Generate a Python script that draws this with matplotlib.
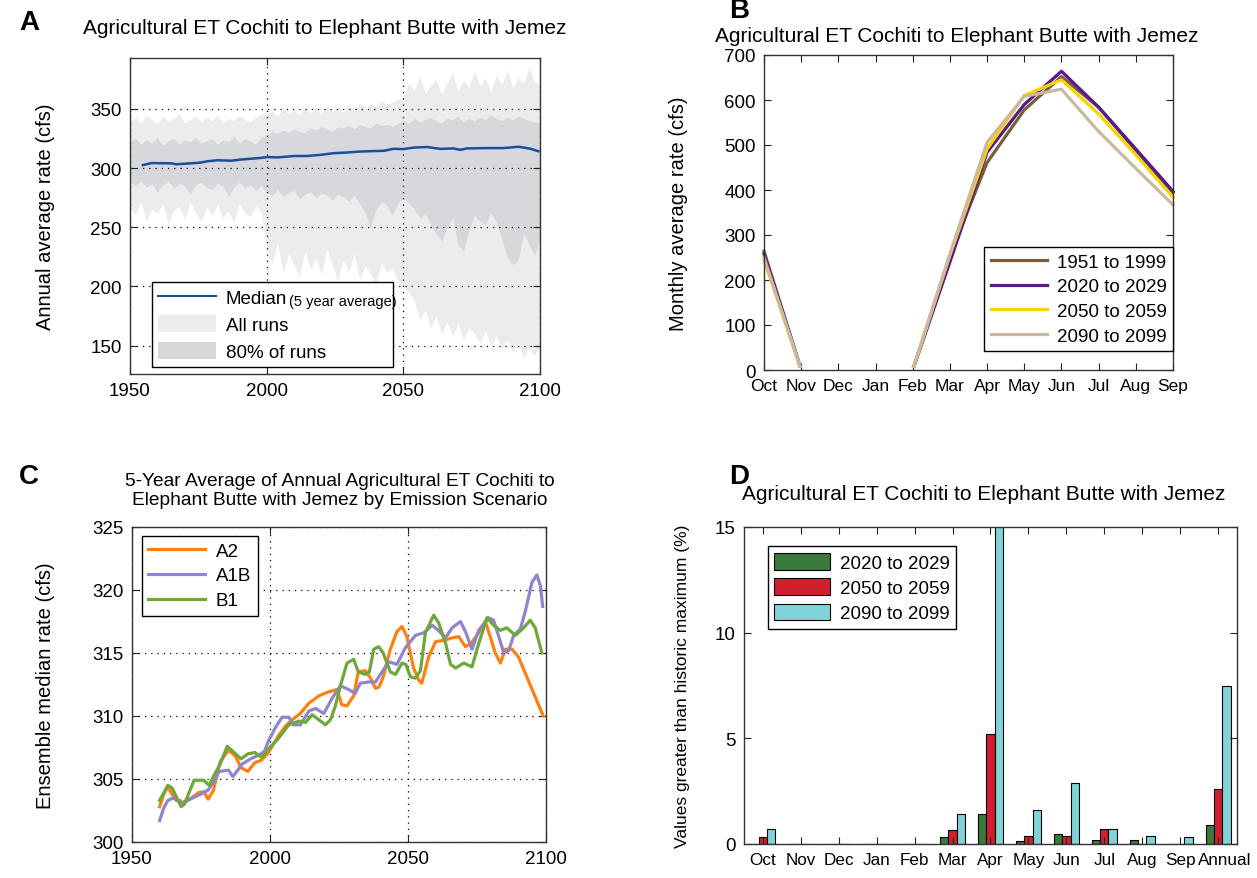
import numpy as np
import matplotlib
matplotlib.use("Agg")
import matplotlib.pyplot as plt
from matplotlib.patches import Patch, Rectangle
from matplotlib.lines import Line2D
from matplotlib.transforms import blended_transform_factory, offset_copy

plt.rcParams['font.family'] = ['Liberation Sans', 'DejaVu Sans']

# ---------------- Panel A data ----------------
years_a = list(range(1950, 2101, 2))
all_hi = [340, 343, 338, 345, 341, 337, 344, 339, 342, 346, 338, 341, 344, 339, 343, 340, 345, 338, 342, 340, 344, 341, 339, 343, 346,
          345, 348, 344, 350, 346, 349, 345, 351, 347, 350, 346, 352, 348, 351, 347, 353, 349, 355, 350, 354, 352, 357, 353, 356, 358,
          360, 372, 365, 378, 363, 370, 375, 362, 372, 380, 366, 374, 368, 382, 370, 376, 364, 378, 371, 383, 368, 376, 372, 385, 374, 370]
p80_hi = [322, 325, 320, 324, 321, 326, 319, 323, 325, 320, 324, 322, 326, 321, 323, 325, 320, 324, 322, 327, 321, 325, 323, 320, 326,
          328, 331, 329, 332, 330, 333, 331, 330, 334, 332, 335, 333, 331, 335, 334, 336, 333, 337, 335, 334, 338, 336, 337, 335, 338,
          340, 338, 342, 339, 341, 343, 340, 338, 342, 341, 344, 339, 342, 340, 343, 341, 345, 342, 340, 343, 341, 344, 342, 340, 339, 338]
p80_lo = [288, 285, 289, 284, 287, 280, 286, 289, 283, 287, 285, 278, 286, 288, 284, 282, 287, 285, 276, 284, 288, 283, 286, 281, 285,
          280, 277, 282, 276, 279, 281, 274, 278, 280, 275, 279, 277, 273, 278, 276, 272, 277, 270, 262, 250, 265, 272, 268, 260, 270,
          275, 270, 265, 258, 262, 252, 245, 238, 250, 258, 235, 230, 248, 260, 255, 252, 262, 255, 240, 225, 218, 222, 245, 235, 226, 240]
all_lo = [268, 260, 272, 255, 265, 262, 270, 253, 264, 268, 257, 271, 262, 255, 267, 260, 269, 258, 264, 254, 270, 262, 259, 268, 263,
          232, 220, 236, 212, 228, 218, 208, 230, 215, 224, 210, 232, 218, 205, 222, 212, 228, 206, 218, 210, 202, 220, 212, 216, 205,
          200, 195, 188, 172, 180, 165, 175, 160, 170, 158, 168, 155, 165, 160, 152, 163, 150, 158, 148, 155, 145, 152, 140, 148, 142, 150]
med_years = [1954.7, 1957.8, 1965.1, 1966.9, 1975.4, 1978.5, 1982.1, 1987.0, 1990.6, 1997.9, 2000.3, 2004.0, 2010.1,
             2014.9, 2019.8, 2024.7, 2029.5, 2034.4, 2042.9, 2046.5, 2049.9, 2053.8, 2058.7, 2063.5, 2068.4, 2070.8,
             2073.3, 2080.6, 2086.7, 2092.1, 2096.4, 2099.4]
med_vals = [302.5, 304.2, 304.0, 303.2, 304.5, 305.8, 306.6, 306.2, 307.2, 308.6, 309.3, 309.0, 310.2,
            310.2, 311.2, 312.6, 313.2, 314.0, 314.6, 316.3, 316.0, 317.3, 317.8, 316.2, 316.6, 315.4,
            316.6, 316.9, 316.9, 318.0, 316.4, 314.2]

# ---------------- Panel B data ----------------
months_b = ['Oct', 'Nov', 'Dec', 'Jan', 'Feb', 'Mar', 'Apr', 'May', 'Jun', 'Jul', 'Aug', 'Sep']
et_1951 = [264, 0, 0, 0, 0, 254, 461, 578, 652, 584, 488, 394]
et_2020 = [258, 0, 0, 0, 0, 240, 484, 590, 664, 584, 491, 397]
et_2050 = [245, 0, 0, 0, 0, 255, 491, 610, 645, 569, 478, 384]
et_2090 = [250, 0, 0, 0, 0, 258, 506, 608, 624, 530, 448, 367]
periods_b = ['1951 to 1999', '2020 to 2029', '2050 to 2059', '2090 to 2099']

# ---------------- Panel C data ----------------
a2_years = [1960.0, 1961.5, 1963.0, 1964.5, 1966.0, 1967.5, 1968.2, 1969.5, 1971.0, 1974.0, 1976.0, 1977.6, 1979.5,
            1982.0, 1985.0, 1987.5, 1989.5, 1992.0, 1994.5, 1997.0, 1999.0, 2000.0, 2003.0, 2005.6, 2008.0, 2011.0,
            2014.0, 2017.7, 2021.0, 2024.3, 2026.0, 2027.9, 2030.3, 2032.0, 2034.6, 2036.4, 2038.2, 2039.5, 2041.0,
            2043.6, 2046.0, 2047.8, 2049.6, 2052.0, 2054.0, 2055.0, 2057.5, 2060.0, 2063.0, 2066.0, 2068.4, 2070.8,
            2073.0, 2075.6, 2078.0, 2079.8, 2081.6, 2083.5, 2085.3, 2087.7, 2090.0, 2099.0]
a2_vals = [302.8, 303.8, 304.4, 303.8, 303.3, 303.3, 302.9, 303.2, 303.4, 303.9, 304.0, 303.4, 304.1,
           306.4, 307.3, 306.8, 305.9, 305.6, 306.3, 306.5, 307.0, 307.3, 308.4, 309.2, 309.7, 310.2,
           311.0, 311.6, 311.9, 312.1, 310.9, 310.8, 311.6, 313.5, 313.6, 313.0, 312.2, 312.3, 313.1,
           315.3, 316.7, 317.1, 316.3, 313.8, 312.8, 312.6, 314.7, 315.9, 316.0, 316.2, 316.3, 315.5,
           315.8, 316.6, 317.5, 316.3, 315.0, 314.2, 315.3, 315.3, 314.7, 310.0]
a1b_years = [1960.0, 1961.5, 1963.0, 1965.0, 1967.8, 1970.0, 1974.0, 1977.5, 1980.0, 1981.5, 1985.0, 1986.5, 1988.0,
             1990.0, 1993.0, 1996.0, 1998.0, 1999.6, 2002.0, 2004.4, 2006.8, 2008.6, 2011.0, 2014.1, 2016.5, 2019.5,
             2022.5, 2025.5, 2028.5, 2030.9, 2032.7, 2035.8, 2038.2, 2040.6, 2043.0, 2046.0, 2049.0, 2052.7, 2055.7,
             2058.8, 2061.0, 2063.6, 2066.0, 2069.0, 2070.8, 2073.2, 2075.6, 2079.2, 2081.0, 2082.9, 2084.7, 2086.5,
             2088.3, 2090.7, 2092.5, 2094.9, 2096.7, 2098.0, 2098.8]
a1b_vals = [301.7, 302.7, 303.3, 303.5, 303.1, 303.3, 303.7, 304.1, 304.9, 305.6, 305.7, 305.2, 305.6,
            306.2, 306.6, 306.9, 307.2, 308.1, 309.1, 309.9, 309.9, 309.3, 309.3, 310.4, 310.6, 310.2,
            311.4, 312.4, 312.1, 311.8, 312.6, 312.7, 312.7, 313.5, 314.3, 314.1, 315.4, 316.4, 316.6,
            317.2, 316.8, 316.2, 317.0, 317.5, 316.7, 315.3, 316.8, 317.8, 317.6, 316.3, 315.0, 315.2,
            316.4, 316.9, 318.3, 320.6, 321.2, 320.3, 318.7]
b1_years = [1960.0, 1963.0, 1964.5, 1967.8, 1969.0, 1971.0, 1972.5, 1976.0, 1978.0, 1979.5, 1982.0, 1984.5, 1986.0,
            1989.5, 1992.0, 1994.5, 1997.0, 1999.0, 2003.0, 2006.8, 2010.5, 2012.9, 2015.3, 2017.7, 2020.1, 2021.9,
            2023.7, 2025.5, 2027.9, 2030.3, 2032.0, 2034.6, 2036.0, 2037.6, 2039.4, 2041.0, 2043.6, 2045.5, 2047.8,
            2049.2, 2050.9, 2052.7, 2054.5, 2056.3, 2059.3, 2061.1, 2063.6, 2065.4, 2067.2, 2070.2, 2073.2, 2075.0,
            2078.6, 2081.0, 2083.5, 2085.8, 2088.9, 2091.9, 2094.3, 2096.1, 2098.5]
b1_vals = [303.3, 304.5, 304.3, 302.8, 303.0, 304.1, 304.9, 304.9, 304.5, 305.2, 306.2, 307.6, 307.3,
           306.6, 307.0, 307.1, 306.7, 307.3, 308.2, 309.3, 309.6, 309.5, 310.1, 309.7, 309.3, 309.7,
           310.8, 312.4, 314.2, 314.5, 313.5, 313.3, 313.5, 315.3, 315.5, 315.0, 313.5, 313.3, 314.2,
           314.1, 313.1, 313.0, 313.6, 316.6, 318.0, 317.4, 315.8, 314.1, 313.8, 314.2, 313.9, 315.3,
           317.8, 317.2, 316.8, 317.0, 316.4, 317.0, 317.6, 317.0, 315.0]

# ---------------- Panel D data ----------------
months_d = ['Oct', 'Nov', 'Dec', 'Jan', 'Feb', 'Mar', 'Apr', 'May', 'Jun', 'Jul', 'Aug', 'Sep', 'Annual']
pct_2020 = [0, 0, 0, 0, 0, 0.32, 1.44, 0.13, 0.47, 0.20, 0.20, 0, 0.92]
pct_2050 = [0.32, 0, 0, 0, 0, 0.66, 5.21, 0.38, 0.38, 0.71, 0, 0, 2.61]
pct_2090 = [0.71, 0, 0, 0, 0, 1.44, 15.2, 1.63, 2.87, 0.71, 0.38, 0.32, 7.47]
periods_d = ['2020 to 2029', '2050 to 2059', '2090 to 2099']

W, H = 1257, 879
fig = plt.figure(figsize=(W / 100, H / 100), dpi=100)


def px_axes(l, t, r, b):
    return fig.add_axes([l / W, 1 - b / H, (r - l) / W, (b - t) / H])


def style(ax, fs=13.5):
    ax.tick_params(direction='in', top=True, right=True, length=5, width=0.8,
                   labelsize=fs, colors='#222222', labelcolor='black', pad=6)
    for s in ax.spines.values():
        s.set_color('#333333')
        s.set_linewidth(1.0)


grid_kw = dict(color='black', linestyle=(0, (1, 4)), linewidth=0.9)
title_fs = 15

# ---------------- Panel A ----------------
axA = px_axes(130, 59, 540, 375)
axA.fill_between(years_a, all_lo, all_hi, color='#ececec', lw=0, label='All runs')
axA.fill_between(years_a, p80_lo, p80_hi, color='#d7d8db', lw=0, label='80% of runs')
med_lo = [v - 2.5 for v in med_vals]
med_hi = [v + 2.5 for v in med_vals]
axA.fill_between(med_years, med_lo, med_hi, color='#d3d6ea', lw=0)
axA.plot(med_years, med_vals, color='#1c4f8e', lw=1.8, label='Median')
axA.set_xlim(1950, 2100)
axA.set_ylim(126, 393)
axA.set_xticks([1950, 2000, 2050, 2100])
axA.set_yticks([150, 200, 250, 300, 350])
axA.grid(True, **grid_kw)
style(axA)
axA.set_ylabel('Annual average rate (cfs)', fontsize=14.5)
axA.yaxis.set_label_coords(-0.183, 0.5)
hA = [Line2D([0], [0], color='#1c4f8e', lw=1.5),
      Patch(facecolor='#ececec', edgecolor='none'),
      Patch(facecolor='#d7d8db', edgecolor='none')]
legA = axA.legend(hA, ['Median', 'All runs', '80% of runs'], loc='lower left',
                  bbox_to_anchor=(0.053, 0.021, 0.589, 0.28), mode='expand', borderaxespad=0,
                  fontsize=13.5, handlelength=3.1, handleheight=1.0, labelspacing=0.42,
                  fancybox=False, edgecolor='black', framealpha=1, borderpad=0.35, handletextpad=0.5)
legA.get_frame().set_linewidth(1.0)
axA.text(0.387, 0.232, '(5 year average)', transform=axA.transAxes, fontsize=10.5,
         ha='left', va='center', zorder=10)

# ---------------- Panel B ----------------
axB = px_axes(764, 56, 1173, 371)
colors_b = ['#7a5d3c', '#561a8c', '#f7d400', '#cbb8a0']
clipB = Rectangle((-1, 4), 14, 800, transform=axB.transData)
for vals, c, lab in zip([et_1951, et_2020, et_2050, et_2090], colors_b, periods_b):
    ln, = axB.plot(range(len(months_b)), vals, color=c, lw=2.3, label=lab, zorder=1.8)
    ln.set_clip_path(clipB)
axB.set_xlim(0, 11)
axB.set_ylim(0, 700)
axB.set_xticks(range(len(months_b)))
axB.set_xticklabels(months_b)
axB.set_yticks(range(0, 701, 100))
style(axB)
axB.tick_params(axis='x', labelsize=12.5)
axB.set_ylabel('Monthly average rate (cfs)', fontsize=14.5)
axB.yaxis.set_label_coords(-0.186, 0.5)
legB = axB.legend(loc='lower right', bbox_to_anchor=(1.0, 0.06), borderaxespad=0, fontsize=13.5,
                  handlelength=3.0, labelspacing=0.4, fancybox=False, edgecolor='black',
                  framealpha=1, borderpad=0.35, handletextpad=0.5)
legB.get_frame().set_linewidth(1.0)

# ---------------- Panel C ----------------
axC = px_axes(132, 528, 546, 843)
axC.plot(a2_years, a2_vals, color='#ff7f0f', lw=2.3, label='A2')
axC.plot(a1b_years, a1b_vals, color='#8f85cf', lw=2.3, label='A1B')
axC.plot(b1_years, b1_vals, color='#6fa83a', lw=2.3, label='B1')
axC.set_xlim(1950, 2100)
axC.set_ylim(300, 325)
axC.set_xticks([1950, 2000, 2050, 2100])
axC.set_yticks([300, 305, 310, 315, 320, 325])
axC.grid(True, **grid_kw)
style(axC)
axC.set_ylabel('Ensemble median rate (cfs)', fontsize=14.5)
axC.yaxis.set_label_coords(-0.186, 0.5)
legC = axC.legend(loc='upper left', bbox_to_anchor=(0.024, 0.971), borderaxespad=0, fontsize=13.5,
                  handlelength=3.0, labelspacing=0.4, fancybox=False, edgecolor='black',
                  framealpha=1, borderpad=0.35, handletextpad=0.6)
legC.get_frame().set_linewidth(1.0)

# ---------------- Panel D ----------------
axD = px_axes(744, 528, 1237, 845)
colors_d = ['#3b7a3a', '#d11f2e', '#80d4d8']
xd = np.arange(1, len(months_d) + 1)
bw = 0.22
for k, (vals, c, lab) in enumerate(zip([pct_2020, pct_2050, pct_2090], colors_d, periods_d)):
    axD.bar(xd + (k - 1) * bw, vals, width=bw, color=c, edgecolor='black', linewidth=0.8, label=lab)
axD.set_xlim(0.5, 13.5)
axD.set_ylim(0, 15)
axD.set_xticks(xd)
axD.set_xticklabels(months_d[:-1] + [''])
axD.set_yticks([0, 5, 10, 15])
style(axD)
axD.tick_params(axis='x', labelsize=12.3)
tD = offset_copy(blended_transform_factory(axD.transData, axD.transAxes), fig=fig, x=7, y=-8.3, units='dots')
axD.text(xd[-1], 0, months_d[-1], transform=tD, fontsize=12.3, ha='center', va='top')
axD.set_ylabel('Values greater than historic maximum (%)', fontsize=12.5)
axD.yaxis.set_label_coords(-0.11, 0.5)
legD = axD.legend(loc='upper left', bbox_to_anchor=(0.048, 0.939), borderaxespad=0, fontsize=13.5,
                  handlelength=3.0, handleheight=1.0, labelspacing=0.35, fancybox=False,
                  edgecolor='black', framealpha=1, borderpad=0.35, handletextpad=0.5)
legD.get_frame().set_linewidth(1.0)

# ---------------- titles & panel letters ----------------
def ftext(x, y, s, **kw):
    fig.text(x / W, 1 - y / H, s, ha='center', va='center', **kw)

ftext(325, 28, 'Agricultural ET Cochiti to Elephant Butte with Jemez', fontsize=title_fs)
ftext(957, 36, 'Agricultural ET Cochiti to Elephant Butte with Jemez', fontsize=title_fs)
ftext(340, 491, '5-Year Average of Annual Agricultural ET Cochiti to\nElephant Butte with Jemez by Emission Scenario',
      fontsize=13.8, linespacing=1.1)
ftext(984, 495, 'Agricultural ET Cochiti to Elephant Butte with Jemez', fontsize=title_fs)

for lab, x, y in [('A', 29, 23), ('B', 739, 11), ('C', 29, 477), ('D', 739, 477)]:
    ftext(x, y, lab, fontsize=20, fontweight='bold')

fig.savefig('out.png', dpi=100)
